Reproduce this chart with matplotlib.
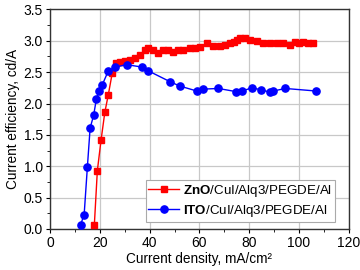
import matplotlib
matplotlib.use("Agg")
import matplotlib.pyplot as plt
from matplotlib.ticker import MultipleLocator, FormatStrFormatter

plt.rcParams['font.family'] = ['Liberation Sans', 'DejaVu Sans']
plt.rcParams['mathtext.fontset'] = 'custom'
plt.rcParams['mathtext.rm'] = 'Liberation Sans'
plt.rcParams['mathtext.bf'] = 'Liberation Sans:bold'

# ZnO/CuI/Alq3/PEGDE/Al
zno_x = [17.8, 19.0, 20.5, 22.0, 23.4, 25.0, 26.5, 28.1, 30.1, 32.1, 34.1, 36.1,
         38.2, 39.5, 41.5, 43.5, 45.5, 47.5, 49.5, 51.5, 53.5, 56.2, 58.2, 60.2,
         62.9, 65.6, 68.3, 70.3, 72.3, 74.0, 75.0, 76.3, 78.3, 80.3, 83.0, 85.7,
         88.4, 91.0, 93.7, 96.4, 98.4, 100.0, 101.7, 103.7, 105.7]
zno_y = [0.07, 0.93, 1.42, 1.86, 2.14, 2.49, 2.64, 2.66, 2.68, 2.70, 2.72, 2.77,
         2.85, 2.88, 2.85, 2.81, 2.85, 2.86, 2.82, 2.85, 2.86, 2.88, 2.89, 2.90,
         2.96, 2.92, 2.92, 2.94, 2.96, 2.98, 3.01, 3.05, 3.04, 3.02, 3.00, 2.97,
         2.97, 2.97, 2.96, 2.93, 2.98, 2.97, 2.98, 2.97, 2.97]

# ITO/CuI/Alq3/PEGDE/Al
ito_x = [12.3, 13.7, 15.0, 16.1, 17.5, 18.6, 19.8, 21.0, 23.4, 26.1, 30.8, 37.1,
         39.5, 48.1, 52.0, 58.9, 61.6, 67.6, 74.7, 77.2, 81.0, 84.7, 88.4, 89.7,
         94.5, 106.7]
ito_y = [0.07, 0.23, 0.99, 1.61, 1.81, 2.07, 2.20, 2.30, 2.52, 2.58, 2.62, 2.58,
         2.52, 2.35, 2.28, 2.20, 2.23, 2.24, 2.19, 2.20, 2.25, 2.22, 2.18, 2.20,
         2.24, 2.20]

labels = [r'$\bf{ZnO}$/CuI/Alq3/PEGDE/Al', r'$\bf{ITO}$/CuI/Alq3/PEGDE/Al']

fig = plt.figure(figsize=(3.6, 2.7), dpi=100)
ax = fig.add_axes([0.139, 0.152, 0.830, 0.813])

ax.plot(zno_x, zno_y, color='#ff0000', marker='s', markersize=4.5, linewidth=1.0,
        label=labels[0], zorder=3)
ax.plot(ito_x, ito_y, color='#0000ff', marker='o', markersize=5.2, linewidth=1.0,
        label=labels[1], zorder=4)

ax.set_xlim(0, 120)
ax.set_ylim(0, 3.5)
ax.xaxis.set_major_locator(MultipleLocator(20))
ax.xaxis.set_minor_locator(MultipleLocator(10))
ax.yaxis.set_major_locator(MultipleLocator(0.5))
ax.yaxis.set_minor_locator(MultipleLocator(0.25))
ax.yaxis.set_major_formatter(FormatStrFormatter('%.1f'))
ax.grid(True, which='major', color='#c8c8c8', linewidth=0.9, zorder=0)
ax.set_axisbelow(True)
ax.tick_params(which='major', direction='out', length=3, width=0.8, labelsize=10, pad=2)
ax.tick_params(which='minor', direction='out', length=2, width=0.6)
for s in ax.spines.values():
    s.set_linewidth(1.0)
    s.set_color('#333333')

ax.set_xlabel('Current density, mA/cm\u00b2', fontsize=9.8, labelpad=1.5)
ax.set_ylabel('Current efficiency, cd/A', fontsize=9.8, labelpad=3)

leg = ax.legend(loc='lower right', bbox_to_anchor=(0.953, 0.033), fontsize=9.6,
                frameon=True, fancybox=False, edgecolor='#aaaaaa', framealpha=1,
                handlelength=2.3, borderpad=0.2, labelspacing=0.3, handletextpad=0.3,
                borderaxespad=0)
leg.get_frame().set_linewidth(0.8)

fig.savefig('out.png', dpi=100)
